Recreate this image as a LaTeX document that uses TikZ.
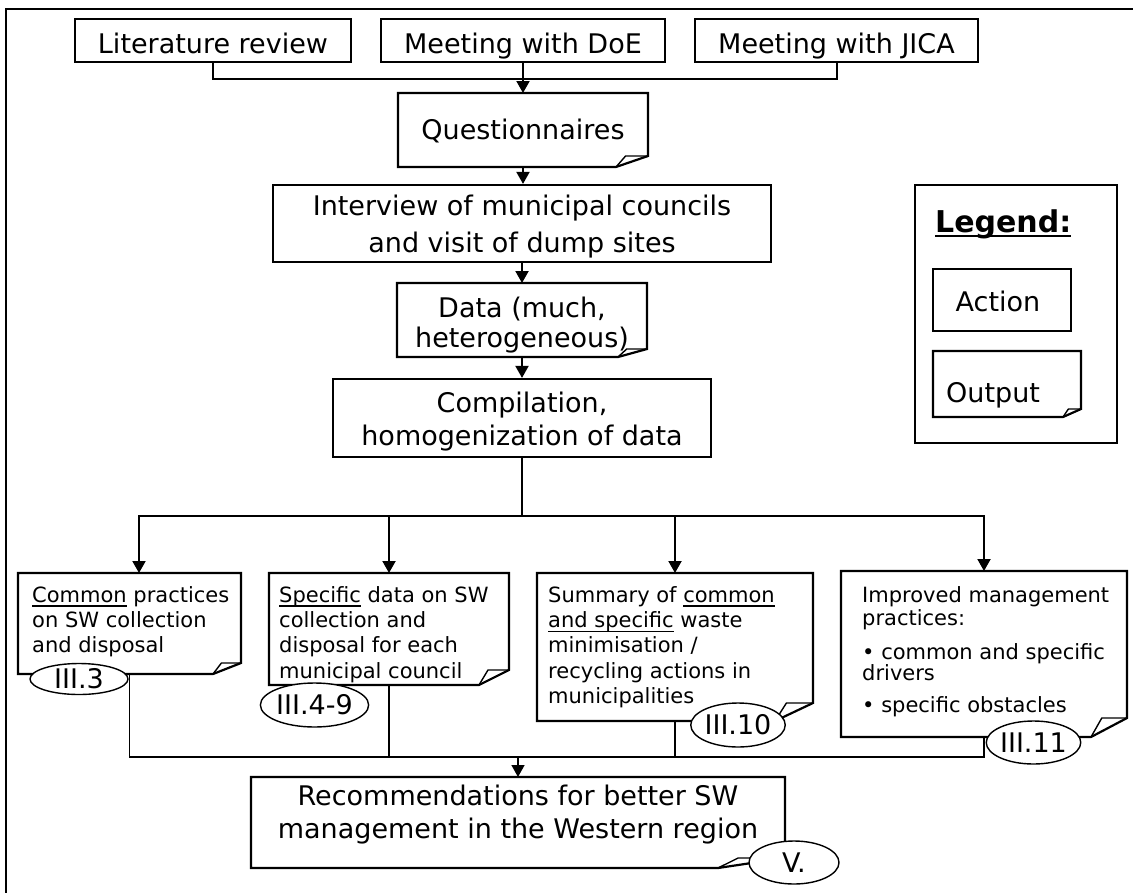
\documentclass[tikz,border=0pt]{standalone}
\usepackage{fontspec}
\setmainfont{DejaVu Sans}
\usetikzlibrary{arrows.meta,shapes.geometric}

% underlined word: optional rule thickness, rule 3pt below the baseline
\newsavebox\undlbox
\newcommand\undl[2][1.4pt]{%
  \sbox\undlbox{#2}%
  \rlap{\vrule width\wd\undlbox height -3pt depth \dimexpr 3pt+#1\relax}%
  \usebox\undlbox}

% invisible strut that fixes the height of a first text line
\newcommand\capstrut{\rule{0pt}{0.85em}}

% outline of an output box with a folded bottom-right corner
% #1 node name, #2 horizontal fold size, #3 vertical fold size
\newcommand\foldedframe[3]{%
  \draw[line width=2.2pt, fill=white]
    (#1.north west) -- (#1.north east) -- ([yshift=#3pt]#1.south east)
    -- ([xshift=-#2pt]#1.south east) -- (#1.south west) -- cycle;
  \draw[line width=1.4pt, line join=round]
    ([xshift=-#2pt]#1.south east) -- ([xshift=-0.7*#2pt,yshift=#3pt]#1.south east)
    -- ([yshift=#3pt]#1.south east);
}

\begin{document}
\begin{tikzpicture}[x=1pt,y=-1pt,
  box/.style={draw, line width=2.2pt, fill=white, inner sep=0pt},
  outarea/.style={inner sep=0pt, outer sep=0pt},
  bigtext/.style={font=\fontsize{27}{30}\selectfont, inner sep=0pt},
  smalltext/.style={font=\fontsize{21}{25.3}\selectfont, inner sep=0pt, align=left, anchor=north west},
  tag/.style={ellipse, draw, line width=1.4pt, fill=white, inner sep=0pt,
              font=\fontsize{27}{30}\selectfont},
  link/.style={line width=2pt},
  thinlink/.style={line width=1.6pt},
  arr/.style={-{Triangle[length=12pt,width=13pt]}},
]
\useasboundingbox (0,0) rectangle (1133,892);
\clip (0,0) rectangle (1133,892);

% page frame
\draw[line width=2pt] (5.5,900) -- (5.5,9) -- (1140,9);

% ---------- shapes ----------
\node[box, minimum width=276pt, minimum height=43pt] (lit)  at (213,40.5) {};
\node[box, minimum width=284pt, minimum height=43pt] (doe)  at (523,40.5) {};
\node[box, minimum width=283pt, minimum height=43pt] (jica) at (836.5,40.5) {};
\node[outarea, minimum width=250pt, minimum height=74pt] (quest) at (523,130) {};
\node[box, minimum width=498pt, minimum height=77pt] (interview) at (522,223.5) {};
\node[outarea, minimum width=250pt, minimum height=74pt] (data) at (522,320) {};
\node[box, minimum width=378pt, minimum height=78pt] (comp) at (522,418) {};

\node[box, minimum width=202pt, minimum height=258pt] (legend) at (1016,314) {};
\node[box, minimum width=138pt, minimum height=62pt] (action) at (1002,300) {};
\node[outarea, minimum width=148pt, minimum height=66pt] (output) at (1007,384) {};

\node[outarea, minimum width=223pt, minimum height=101pt] (b1) at (129.5,623.5) {};
\node[outarea, minimum width=240pt, minimum height=112pt] (b2) at (389,629) {};
\node[outarea, minimum width=276pt, minimum height=148pt] (b3) at (675,647) {};
\node[outarea, minimum width=286pt, minimum height=166pt] (b4) at (984,654) {};
\node[outarea, minimum width=534pt, minimum height=91pt] (rec) at (518,822.5) {};

% ---------- connectors ----------
\coordinate (topbus) at (523,79);
\draw[link] (lit.south) |- (topbus) -| (jica.south);
\draw[link,arr] (doe.south) -- (doe.south |- quest.north);
\draw[link,arr] (quest.south) -- (quest.south |- interview.north);
\draw[link,arr] (interview.south) -- (interview.south |- data.north);
\draw[link,arr] (data.south) -- (data.south |- comp.north);

\coordinate (split) at (522,516);
\draw[link] (comp.south) -- (split);
\draw[link,arr] (split) -| ([xshift=9.5pt]b1.north);
\draw[link,arr] (split) -| (b2.north);
\draw[link,arr] (split) -| (b3.north);
\draw[link,arr] (split) -| (b4.north);

\coordinate (merge) at (518,757);
\draw[thinlink] (b1.south) |- (merge);
\draw[thinlink] (b2.south) |- (merge);
\draw[thinlink] (b3.south) |- (merge);
\draw[thinlink] (b4.south) |- (merge);
\draw[thinlink,arr] (merge) -- (rec.north);

% ---------- output outlines ----------
\foldedframe{quest}{32}{11}
\foldedframe{data}{29}{8}
\foldedframe{output}{18}{8}
\foldedframe{b1}{28}{11}
\foldedframe{b2}{30}{15}
\foldedframe{b3}{38}{18}
\foldedframe{b4}{36}{19}
\foldedframe{rec}{67}{10}

% ---------- texts ----------
\node[bigtext, anchor=base] (lit-t)  at (213,53)   {Literature review};
\node[bigtext, anchor=base] (doe-t)  at (523,53)   {Meeting with DoE};
\node[bigtext, anchor=base] (jica-t) at (836.5,53) {Meeting with JICA};
\node[bigtext, anchor=base] (quest-t) at (523,139) {Questionnaires};
\node[bigtext, anchor=north, align=center, font=\fontsize{27}{37}\selectfont]
  (interview-t) at (522,192.05) {\capstrut Interview of municipal councils\\and visit of dump sites};
\node[bigtext, anchor=north, align=center, font=\fontsize{27}{30}\selectfont]
  (data-t) at (522,294.05) {\capstrut Data (much,\\heterogeneous)};
\node[bigtext, anchor=north, align=center, font=\fontsize{27}{33}\selectfont]
  (comp-t) at (522,389.05) {\capstrut Compilation,\\homogenization of data};

\node[anchor=base west, inner sep=0pt, font=\fontsize{30}{34}\selectfont\bfseries]
  (legend-t) at (935,232) {\undl[2pt]{Legend:}};
\node[bigtext, anchor=base] (action-t) at (998,311) {Action};
\node[bigtext, anchor=base west] (output-t) at (946,402) {Output};

\node[smalltext, font=\fontsize{21}{25}\selectfont] (b1-t) at (32,584.15)
  {\capstrut\undl{Common} practices\\on SW collection\\and disposal};
\node[smalltext] (b2-t) at (279,584.15)
  {\capstrut\undl{Specific} data on SW\\collection and\\disposal for each\\municipal council};
\node[smalltext] (b3-t) at (548,584.15)
  {\capstrut Summary of \undl{common}\\\undl{and specific} waste\\minimisation /\\recycling actions in\\municipalities};
\node[smalltext, font=\fontsize{21}{23}\selectfont] (b4-t) at (862,584.15)
  {\capstrut Improved management\\practices:\\[11pt]\textbullet{} common and specific\\[-2pt]drivers\\[9pt]\textbullet{} specific obstacles};

\node[bigtext, anchor=north, align=center, font=\fontsize{27}{33}\selectfont]
  (rec-t) at (518,782.05) {\capstrut Recommendations for better SW\\management in the Western region};

% ---------- section tags ----------
\node[tag, minimum width=98pt,  minimum height=31pt] (t3)  at (79,679)      {III.3};
\node[tag, minimum width=107pt, minimum height=44pt] (t49) at (314.5,705)   {III.4-9};
\node[tag, minimum width=90pt,  minimum height=44pt] (t10) at (738,725)     {III.10};
\node[tag, minimum width=91pt,  minimum height=43pt] (t11) at (1033.5,742.5) {III.11};
\node[tag, minimum width=90pt,  minimum height=43pt] (tV)  at (794,862.5)   {V.};
\end{tikzpicture}
\end{document}
